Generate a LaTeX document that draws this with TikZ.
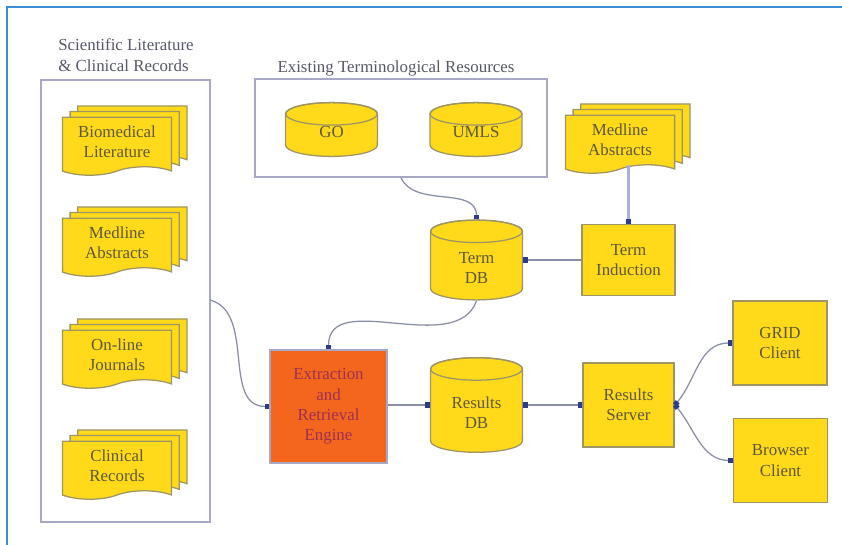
\documentclass[tikz,border=0pt]{standalone}
\usepackage{fontspec}
\setmainfont{Liberation Serif}
\usepackage{tikz}
\usetikzlibrary{arrows.meta, shapes.symbols, shadows}

\definecolor{docyellow}{HTML}{FFDA1A}
\definecolor{docedge}{HTML}{9E9464}
\definecolor{doctext}{HTML}{5E5838}
\definecolor{engineorange}{HTML}{F4661E}
\definecolor{enginetext}{HTML}{9C3050}
\definecolor{groupedge}{HTML}{A6A8C6}
\definecolor{labeltext}{HTML}{565868}
\definecolor{linkgray}{HTML}{8A8EA8}
\definecolor{feedblue}{HTML}{A9B0DE}
\definecolor{tipblue}{HTML}{2E3A8C}
\definecolor{frameblue}{HTML}{3C8ED2}

% extra room above the text of a database
\newcommand{\dbpad}[1]{\rule{0pt}{#1}}

\begin{document}
\begin{tikzpicture}[
        x=0.025cm, y=-0.025cm,
        font=\fontsize{12}{14.5}\selectfont,
        >={Square[length=3pt, width=3.6pt, color=tipblue]},
        group/.style={rectangle, draw=groupedge, line width=1.2pt, inner sep=0pt},
        grouplabel/.style={text=labeltext, inner sep=0pt},
        docstack/.style={tape, tape bend top=none, tape bend bottom=in and out, tape bend height=6pt,
            draw=docedge, fill=docyellow, text=doctext, line width=0.9pt, align=center,
            minimum width=2.73cm, minimum height=1.45cm, inner sep=0pt,
            copy shadow={shadow xshift=11pt, shadow yshift=8pt, fill=docyellow, draw=docedge, line width=0.9pt},
            copy shadow={shadow xshift=5.5pt, shadow yshift=4pt, fill=docyellow, draw=docedge, line width=0.9pt}},
        store/.style={rectangle, text=doctext, align=center, minimum width=2.33cm, inner sep=0pt,
            path picture={
                \draw [draw=docedge, fill=docyellow, line width=0.9pt]
                    ([shift={(0.5pt,-8.5pt)}]path picture bounding box.north west)
                    -- ([shift={(0.5pt,8.5pt)}]path picture bounding box.south west)
                    arc [start angle=180, end angle=360, x radius=1.147cm, y radius=8pt]
                    -- ([shift={(-0.5pt,-8.5pt)}]path picture bounding box.north east)
                    arc [start angle=0, end angle=180, x radius=1.147cm, y radius=8pt]
                    -- cycle;
                \draw [draw=docedge, line width=0.9pt]
                    ([yshift=-8.5pt]path picture bounding box.north) ellipse [x radius=1.147cm, y radius=8pt];
            }},
        process/.style={rectangle, draw=docedge, fill=docyellow, text=doctext, line width=1.2pt,
            align=center, inner sep=0pt},
        engine/.style={rectangle, draw=groupedge, fill=engineorange, text=enginetext, line width=1.2pt,
            align=center, inner sep=0pt},
        link/.style={->, draw=linkgray, line width=0.9pt}
    ]
        % Frame
        \useasboundingbox (0,0) rectangle (842,545);
        \draw [frameblue, line width=1.5pt] (7,545) -- (7,7) -- (842,7);

        % Groups of sources
        \node (litbox) [group, minimum width=4.23cm, minimum height=11.05cm] at (125.5,301) {};
        \node (litlabel) [grouplabel, align=left, anchor=west] at (58,55) {Scientific Literature\\\& Clinical Records};
        \node (resbox) [group, minimum width=7.3cm, minimum height=2.45cm] at (401,128) {};
        \node (reslabel) [grouplabel] at (396,68) {Existing Terminological Resources};

        % Document stacks
        \node (biomed) [docstack] at (117,142) {Biomedical\\Literature};
        \node (medlineA) [docstack] at (117,243) {Medline\\Abstracts};
        \node (journals) [docstack] at (117,355) {On-line\\Journals};
        \node (clinical) [docstack] at (117,466) {Clinical\\Records};
        \node (medlineB) [docstack] at (620,140) {Medline\\Abstracts};

        % Databases
        \node (go) [store, minimum height=1.38cm] at (331.5,129.5) {\dbpad{12pt}GO};
        \node (umls) [store, minimum height=1.38cm] at (476,129.5) {\dbpad{12pt}UMLS};
        \node (termdb) [store, minimum height=2.03cm] at (476.5,260) {\dbpad{19pt}Term\\DB};
        \node (resultsdb) [store, minimum height=2.4cm] at (476.5,405) {\dbpad{19pt}Results\\DB};

        % Processes
        \node (induction) [process, minimum width=2.33cm, minimum height=1.78cm] at (628.5,260) {Term\\Induction};
        \node (extract) [engine, minimum width=2.93cm, minimum height=2.83cm] at (328.5,406.5) {Extraction\\and\\Retrieval\\Engine};
        \node (server) [process, minimum width=2.28cm, minimum height=2.1cm] at (628.5,405) {Results\\Server};
        \node (grid) [process, minimum width=2.35cm, minimum height=2.1cm] at (780,343) {GRID\\Client};
        \node (browser) [process, minimum width=2.35cm, minimum height=2.1cm] at (780.5,460.5) {Browser\\Client};

        % Links
        \coordinate (litout) at (210,300);
        \draw [link] (litout) to [out=-15, in=180] (extract.west);
        \draw [link] (resbox.south) to [out=-65, in=90] (termdb.north);
        \draw [link] (termdb.south) to [out=-110, in=90] (extract.north);
        \draw [link, draw=feedblue, line width=1.8pt] (induction.north |- medlineB.south) -- (induction.north);
        \draw [link] (induction.west) -- (termdb.east);
        \draw [link] (extract.east |- resultsdb.west) -- (resultsdb.west);
        \draw [link, <->] (resultsdb.east) -- (server.west);
        \draw [link, <->] (server.east) to [out=50, in=180] (grid.west);
        \draw [link, <->] (server.east) to [out=-50, in=180] (browser.west);

\end{tikzpicture}
\end{document}
